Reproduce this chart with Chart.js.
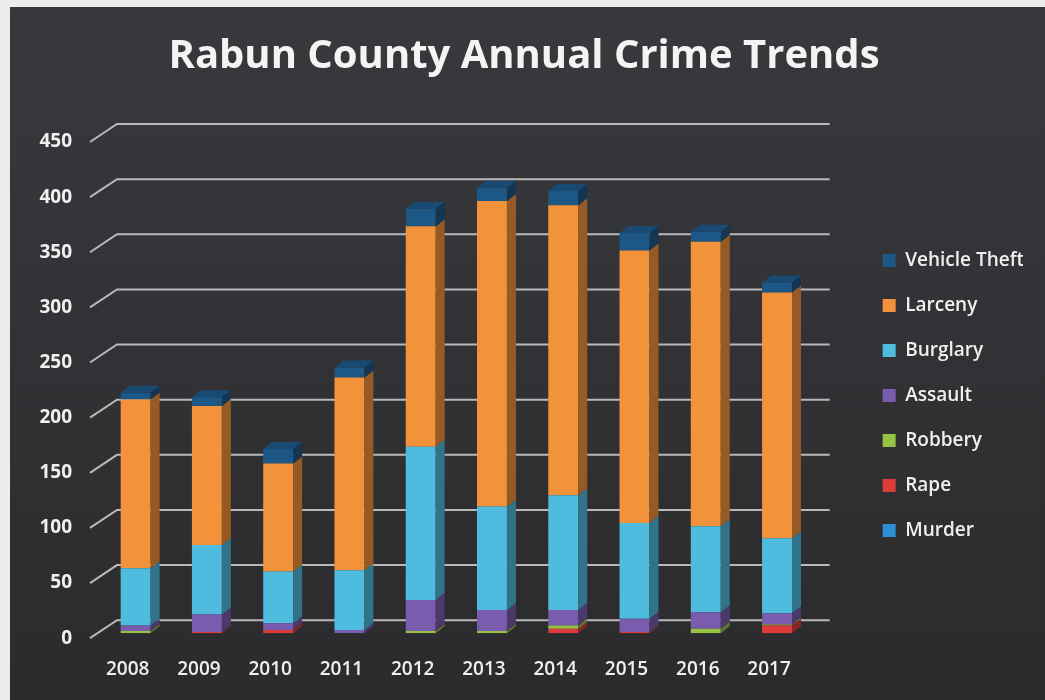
<!DOCTYPE html>
<html>
    <head>
        <meta charset="utf-8">
        <script src="https://cdn.jsdelivr.net/npm/chart.js@4.4.0/dist/chart.umd.min.js"></script>
        <style>
            body { margin: 0; background: #303134; }
        </style>
    </head>
    <body>
        <div style="width: 1045px; height: 700px;">
            <canvas id="wykres" width="1045" height="700"></canvas>
        </div>
        <script>
            // dane
            var lata = ["2008", "2009", "2010", "2011", "2012", "2013", "2014", "2015", "2016", "2017"];
            var murder       = [0, 0, 0, 0, 0, 0, 0, 0, 0, 0];
            var rape         = [0, 1, 3, 0, 0, 0, 4, 1, 0, 7];
            var robbery      = [2, 0, 0, 0, 2, 2, 3, 0, 4, 1];
            var assault      = [5, 16, 6, 3, 28, 19, 14, 12, 15, 10];
            var burglary     = [52, 63, 47, 54, 139, 94, 104, 87, 78, 68];
            var larceny      = [153, 126, 98, 175, 200, 277, 263, 247, 258, 223];
            var vehicleTheft = [6, 8, 13, 9, 16, 12, 13, 16, 9, 9];

            var kolory = {
                murder: "#2f8fd6",
                rape: "#dd3b3a",
                robbery: "#97c246",
                assault: "#7a5cae",
                burglary: "#4fbbde",
                larceny: "#f2933c",
                vehicleTheft: "#1d5786"
            };

            function ciemniej(hex, f) {
                var r = parseInt(hex.substr(1, 2), 16), g = parseInt(hex.substr(3, 2), 16), b = parseInt(hex.substr(5, 2), 16);
                return "rgb(" + Math.round(r * f) + "," + Math.round(g * f) + "," + Math.round(b * f) + ")";
            }

            var dane = {
                labels: lata,
                datasets: [
                    { label: "Murder", data: murder, backgroundColor: kolory.murder },
                    { label: "Rape", data: rape, backgroundColor: kolory.rape },
                    { label: "Robbery", data: robbery, backgroundColor: kolory.robbery },
                    { label: "Assault", data: assault, backgroundColor: kolory.assault },
                    { label: "Burglary", data: burglary, backgroundColor: kolory.burglary },
                    { label: "Larceny", data: larceny, backgroundColor: kolory.larceny },
                    { label: "Vehicle Theft", data: vehicleTheft, backgroundColor: kolory.vehicleTheft }
                ]
            };

            // tlo + jasny margines skanu
            var tlo = {
                id: "tlo",
                beforeDraw: function(chart) {
                    var c = chart.ctx;
                    var gr = c.createLinearGradient(0, 0, 0, chart.height);
                    gr.addColorStop(0, "#38393d");
                    gr.addColorStop(1, "#2b2b2d");
                    c.save();
                    c.fillStyle = gr;
                    c.fillRect(0, 0, chart.width, chart.height);
                    c.fillStyle = "#ececec";
                    c.fillRect(0, 0, chart.width, 7);
                    c.fillRect(0, 0, 10, chart.height);
                    c.restore();
                }
            };

            // linie siatki "3D"
            var siatka = {
                id: "siatka",
                beforeDatasetsDraw: function(chart) {
                    var c = chart.ctx, y = chart.scales.y, a = chart.chartArea;
                    c.save();
                    c.strokeStyle = "#b9b9bb";
                    c.lineWidth = 2;
                    for (var v = 0; v <= 450; v += 50) {
                        var py = y.getPixelForValue(v);
                        c.beginPath();
                        c.moveTo(a.left - 10, py + 5);
                        c.lineTo(a.left + 17, py - 13);
                        c.lineTo(a.right + 17, py - 13);
                        c.stroke();
                    }
                    c.restore();
                }
            };

            // boki i wierzch slupkow
            var slupki3d = {
                id: "slupki3d",
                afterDatasetsDraw: function(chart) {
                    var c = chart.ctx, dx = 9, dy = 7;
                    var n = chart.data.datasets.length;
                    c.save();
                    chart.data.datasets.forEach(function(ds, i) {
                        var meta = chart.getDatasetMeta(i);
                        meta.data.forEach(function(el) {
                            var p = el.getProps(["x", "y", "base", "width"], true);
                            if (Math.abs(p.base - p.y) < 0.5) return;
                            var r = p.x + p.width / 2, l = p.x - p.width / 2;
                            c.fillStyle = ciemniej(ds.backgroundColor, 0.62);
                            c.beginPath();
                            c.moveTo(r, p.y);
                            c.lineTo(r + dx, p.y - dy);
                            c.lineTo(r + dx, p.base - dy);
                            c.lineTo(r, p.base);
                            c.closePath();
                            c.fill();
                            if (i === n - 1) {
                                c.fillStyle = ciemniej(ds.backgroundColor, 0.85);
                                c.beginPath();
                                c.moveTo(l, p.y);
                                c.lineTo(r, p.y);
                                c.lineTo(r + dx, p.y - dy);
                                c.lineTo(l + dx, p.y - dy);
                                c.closePath();
                                c.fill();
                            }
                        });
                    });
                    c.restore();
                }
            };

            const ctx = document.getElementById("wykres").getContext("2d");
            const wykres = new Chart(ctx, {
                type: "bar",
                data: dane,
                plugins: [tlo, siatka, slupki3d],
                options: {
                    responsive: false,
                    animation: false,
                    layout: { padding: { left: 25, right: 22, top: 0, bottom: -6 } },
                    datasets: { bar: { barPercentage: 0.6, categoryPercentage: 0.7 } },
                    plugins: {
                        title: {
                            display: true,
                            text: "Rabun County Annual Crime Trends",
                            color: "#f4f4f4",
                            font: { family: "Open Sans", size: 40, weight: "bold" },
                            padding: { top: 33, bottom: 56 }
                        },
                        legend: {
                            position: "right",
                            align: "start",
                            reverse: true,
                            title: { display: true, text: " ", font: { size: 10 }, padding: { top: 213, bottom: 0 } },
                            labels: {
                                color: "#f0f0f0",
                                font: { family: "Open Sans", size: 19, weight: "600" },
                                boxWidth: 13,
                                boxHeight: 13,
                                padding: 26
                            }
                        },
                        tooltip: { enabled: false }
                    },
                    scales: {
                        x: {
                            stacked: true,
                            grid: { display: false, drawTicks: false },
                            border: { display: false },
                            ticks: {
                                color: "#f0f0f0",
                                font: { family: "Open Sans", size: 19, weight: "600" },
                                padding: 25,
                                labelOffset: -8,
                                maxRotation: 0
                            }
                        },
                        y: {
                            stacked: true,
                            min: 0,
                            max: 450,
                            grid: { display: false, drawTicks: false },
                            border: { display: false },
                            afterFit: function(s) { s.width = 75; },
                            ticks: {
                                stepSize: 50,
                                color: "#f0f0f0",
                                font: { family: "Open Sans", size: 19, weight: "bold" },
                                padding: 28,
                                labelOffset: 5
                            }
                        },
                        pusta: {
                            position: "right",
                            display: true,
                            grid: { display: false, drawTicks: false },
                            border: { display: false },
                            ticks: { display: false },
                            afterFit: function(s) { s.width = 44; }
                        }
                    }
                }
            });
        </script>
    </body>
</html>
